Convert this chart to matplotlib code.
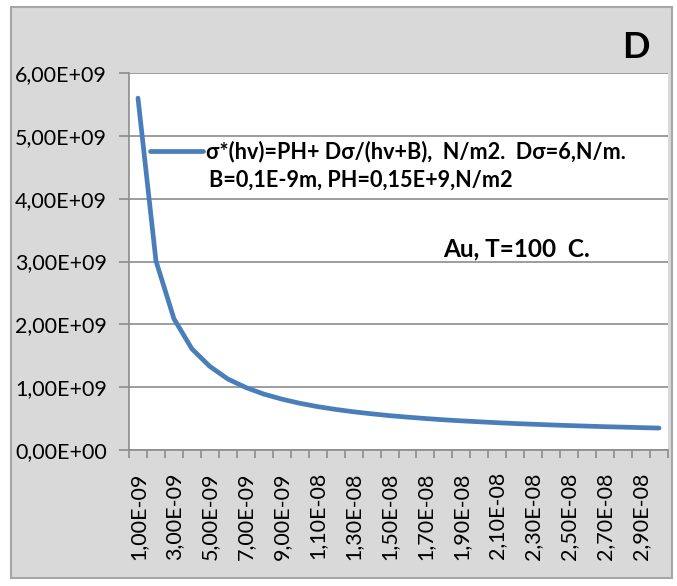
import numpy as np
import matplotlib.pyplot as plt
from matplotlib.patches import Rectangle
from matplotlib.ticker import FixedLocator, FuncFormatter

plt.rcParams['font.family'] = ['Lato', 'DejaVu Sans']

# thickness hv, m (1E-9 .. 3E-8) and sigma*, N/m2
hv = [1e-9 * n for n in range(1, 31)]
sigma = [5.60e9, 3.01e9, 2.09e9, 1.61e9, 1.33e9, 1.13e9, 0.995e9, 0.89e9, 0.81e9, 0.744e9,
         0.69e9, 0.646e9, 0.608e9, 0.576e9, 0.547e9, 0.523e9, 0.501e9, 0.481e9, 0.464e9, 0.449e9,
         0.434e9, 0.421e9, 0.410e9, 0.399e9, 0.389e9, 0.380e9, 0.371e9, 0.364e9, 0.356e9, 0.349e9]
label_line1 = "σ*(hv)=PH+ Dσ/(hv+B),  N/m2.  Dσ=6,N/m."
label_line2 = "B=0,1E-9m, PH=0,15E+9,N/m2"
note = "Au, T=100  C."
panel = "D"

W, H = 677, 586
fig = plt.figure(figsize=(W / 100, H / 100), dpi=100, facecolor='white')

# grey chart area with frame
fig.patches.append(Rectangle((11 / W, 1 - 578 / H), (672 - 11) / W, (578 - 7) / H,
                             transform=fig.transFigure, facecolor='#d9d9d9',
                             edgecolor='#a6a6a6', linewidth=1.5, zorder=-5))

ax = fig.add_axes([129 / W, 1 - 450 / H, (668 - 129) / W, (450 - 73) / H])
ax.set_facecolor('white')

pos = np.arange(len(hv))
ax.plot(pos, sigma, color='#4a7ebb', linewidth=3.4, solid_capstyle='round', label=label_line1)

ax.set_xlim(-0.5, len(hv) - 0.5)
ax.set_ylim(0, 6e9)
ax.yaxis.set_major_locator(FixedLocator(np.arange(0, 6.01e9, 1e9)))
ax.yaxis.set_major_formatter(FuncFormatter(
    lambda v, p: ("%.2E" % v).replace('.', ',')))
ax.grid(axis='y', color='#8c8c8c', linewidth=1.2)
ax.set_axisbelow(True)

ax.set_xticks(pos[::2])
ax.set_xticklabels([("%.2E" % v).replace('.', ',') for v in hv[::2]], rotation=90)
ax.set_xticks(np.arange(-0.5, len(hv)), minor=True)
ax.tick_params(axis='x', which='major', length=0, pad=16, labelsize=15.5)
ax.tick_params(axis='x', which='minor', length=6, color='#8c8c8c', width=1.2)
ax.tick_params(axis='y', length=7, color='#8c8c8c', width=1.2, pad=9, labelsize=15.5)

for s in ['top', 'right']:
    ax.spines[s].set_visible(False)
for s in ['left', 'bottom']:
    ax.spines[s].set_color('#8c8c8c')
    ax.spines[s].set_linewidth(1.2)

leg = ax.legend(loc='center left', bbox_to_anchor=(150 / W, 1 - 152 / H),
                bbox_transform=fig.transFigure, frameon=False,
                borderpad=0, borderaxespad=0,
                handlelength=2.45, handletextpad=0.15,
                prop={'weight': 'bold', 'size': 15.6})
fig.text(209 / W, 1 - 187 / H, label_line2, fontsize=15.6, fontweight='bold', va='baseline')

fig.text(443 / W, 1 - 256 / H, note, fontsize=17.6, fontweight='bold', va='baseline')
fig.text(622 / W, 1 - 58 / H, panel, fontsize=26, fontweight='bold', va='baseline')

fig.savefig('out.png', dpi=100, facecolor='white')
